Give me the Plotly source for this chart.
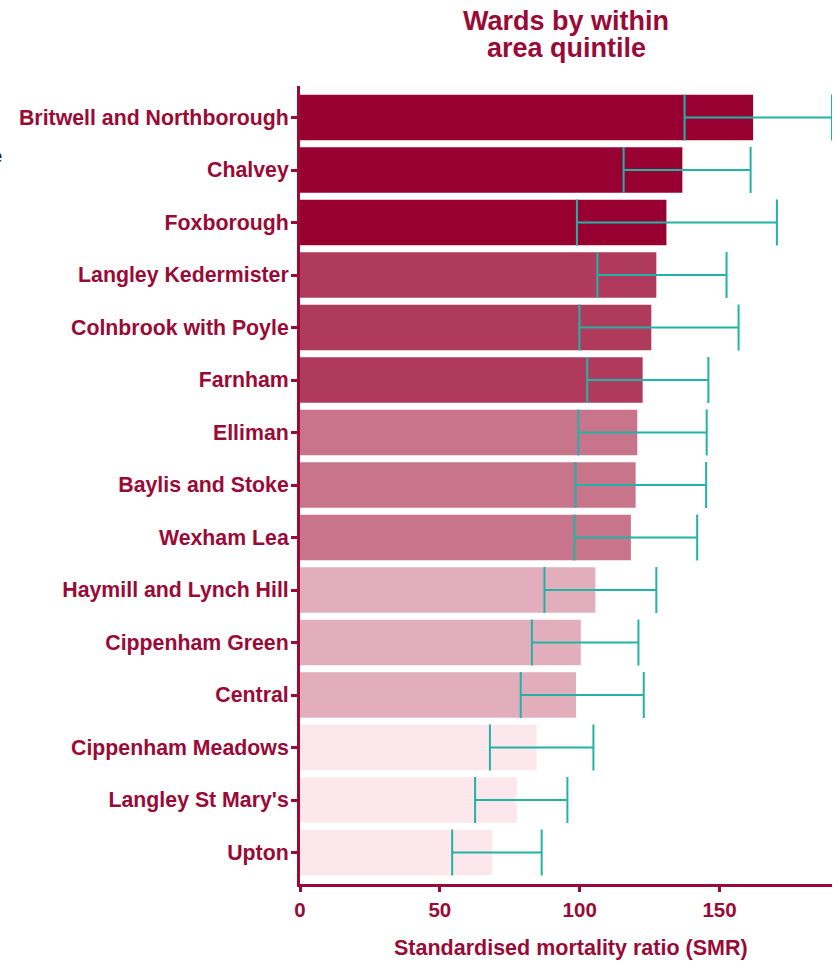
import plotly.graph_objects as go

# Wards, top to bottom, with SMR and 95% confidence limits
wards = [
    "Britwell and Northborough", "Chalvey", "Foxborough",
    "Langley Kedermister", "Colnbrook with Poyle", "Farnham",
    "Elliman", "Baylis and Stoke", "Wexham Lea",
    "Haymill and Lynch Hill", "Cippenham Green", "Central",
    "Cippenham Meadows", "Langley St Mary's", "Upton",
]
smr = [162, 136.7, 131, 127.4, 125.6, 122.5, 120.6, 120, 118.3,
       105.6, 100.4, 98.7, 84.6, 77.5, 68.7]
lower_ci = [137.5, 115.7, 99, 106.3, 99.9, 102.7, 99.5, 98.5, 98.1,
            87.4, 82.9, 78.9, 67.9, 62.6, 54.4]
upper_ci = [190.2, 161.1, 170.5, 152.5, 156.8, 146, 145.4, 145.2, 142,
            127.4, 121, 122.9, 104.9, 95.6, 86.4]
quintile = [1, 1, 1, 2, 2, 2, 3, 3, 3, 4, 4, 4, 5, 5, 5]
x_ticks = [0, 50, 100, 150]

quintile_colours = {1: "#970030", 2: "#B03A5B", 3: "#C8748A",
                    4: "#E2AEBC", 5: "#FCE7EC"}
maroon = "#9A0A36"
teal = "#22B3A6"
font_family = "Arial, Liberation Sans, sans-serif"

fig = go.Figure()
fig.add_trace(go.Bar(
    y=wards,
    x=smr,
    orientation="h",
    width=0.87,
    marker=dict(color=[quintile_colours[q] for q in quintile],
                line=dict(width=0)),
    error_x=dict(
        type="data",
        symmetric=False,
        array=[u - v for u, v in zip(upper_ci, smr)],
        arrayminus=[v - l for l, v in zip(lower_ci, smr)],
        color=teal,
        thickness=2,
        width=23,
    ),
    hoverinfo="skip",
))

plot_top, plot_bottom = 86, 884
plot_h = plot_bottom - plot_top


def paper_y(px):
    return (plot_bottom - px) / plot_h


annotations = [
    dict(text="<b>Wards by within</b>", x=0.5, y=paper_y(21)),
    dict(text="<b>area quintile</b>", x=0.5, y=paper_y(48)),
]
for a in annotations:
    a.update(xref="paper", yref="paper", xanchor="center", yanchor="middle",
             showarrow=False, font=dict(family=font_family, size=27, color=maroon))

# x-axis title
annotations.append(dict(
    text="<b>Standardised mortality ratio (SMR)</b>",
    xref="paper", yref="paper", x=0.51, y=paper_y(948),
    xanchor="center", yanchor="middle", showarrow=False,
    font=dict(family=font_family, size=21.5, color=maroon),
))
# edge of the neighbouring panel's label
annotations.append(dict(
    text="<b>quintile</b>",
    xref="paper", yref="paper", x=(4 - 300) / 532, y=paper_y(156),
    xanchor="right", yanchor="middle", showarrow=False,
    font=dict(family=font_family, size=20, color="#1B1B2F"),
))

fig.update_layout(
    width=840,
    height=965,
    margin=dict(l=300, r=8, t=plot_top, b=965 - plot_bottom, pad=0),
    paper_bgcolor="white",
    plot_bgcolor="white",
    showlegend=False,
    annotations=annotations,
    xaxis=dict(
        range=[0, 190.2],
        tickvals=x_ticks,
        ticktext=[f"<b>{t}</b>" for t in x_ticks],
        showgrid=False,
        zeroline=False,
        showline=True,
        linecolor=maroon,
        linewidth=3,
        ticks="outside",
        ticklen=5,
        tickwidth=2.5,
        tickcolor=maroon,
        tickfont=dict(family=font_family, size=20.5, color=maroon),
    ),
    yaxis=dict(
        type="category",
        categoryorder="array",
        categoryarray=wards[::-1],
        range=[-0.6, 14.6],
        tickvals=wards,
        ticktext=[f"<b>{w}</b>" for w in wards],
        showgrid=False,
        zeroline=False,
        showline=True,
        linecolor=maroon,
        linewidth=3,
        ticks="outside",
        ticklen=6,
        tickwidth=2.5,
        tickcolor=maroon,
        ticklabelstandoff=-2,
        tickfont=dict(family=font_family, size=21.3, color=maroon),
    ),
)

fig.write_html("out.html")
